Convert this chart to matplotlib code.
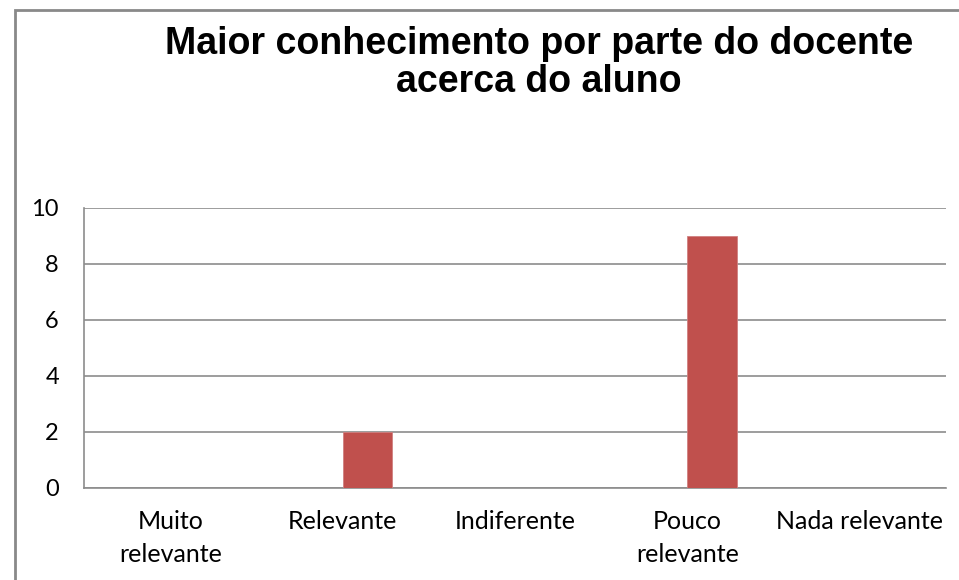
import matplotlib
matplotlib.use("Agg")
import matplotlib.pyplot as plt
from matplotlib.patches import Rectangle

categories = ["Muito\nrelevante", "Relevante", "Indiferente", "Pouco\nrelevante", "Nada relevante"]
values = [0, 2, 0, 9, 0]
yticks = [0, 2, 4, 6, 8, 10]
title = "Maior conhecimento por parte do docente\nacerca do aluno"

W, H = 959, 580
fig = plt.figure(figsize=(W / 100, H / 100), dpi=100)
fig.patch.set_facecolor("white")

# chart outer border (cropped at right and bottom)
fig.patches.append(Rectangle((15 / W, -0.2), 2, 1.2 - 10 / H, transform=fig.transFigure,
                             facecolor="none", edgecolor="#898989", linewidth=2))

ax = fig.add_axes([84 / W, 1 - 487.5 / H, (946 - 84) / W, (487.5 - 208) / H])

n = len(categories)
w = 1 / 3.5  # two series per category, gap width 150%
xs = list(range(n))
ax.bar([x + w / 2 for x in xs], values, width=w, color="#C0504D", edgecolor="#D08080",
       linewidth=0.6, zorder=3)

ax.set_xlim(-0.5, n - 0.5)
ax.set_ylim(0, 10)
ax.set_yticks(yticks)
ax.set_xticks(xs)
ax.set_xticklabels(categories)
ax.yaxis.grid(True, color="#8C8C8C", linewidth=1.2)
ax.set_axisbelow(True)
for s in ["top", "right"]:
    ax.spines[s].set_visible(False)
for s in ["left", "bottom"]:
    ax.spines[s].set_color("#8C8C8C")
    ax.spines[s].set_linewidth(1.2)
ax.tick_params(axis="both", length=0, colors="black")
ax.tick_params(axis="y", pad=18, labelsize=17)
ax.tick_params(axis="x", pad=16, labelsize=18)
for lab in ax.get_xticklabels() + ax.get_yticklabels():
    lab.set_fontfamily("Lato")
    lab.set_linespacing(1.55)

fig.text(539 / W, 1 - 63 / H, title, ha="center", va="center", fontsize=27,
         fontweight="bold", fontfamily="Liberation Sans", linespacing=1.07)

fig.savefig("out.png", dpi=100, facecolor="white")
